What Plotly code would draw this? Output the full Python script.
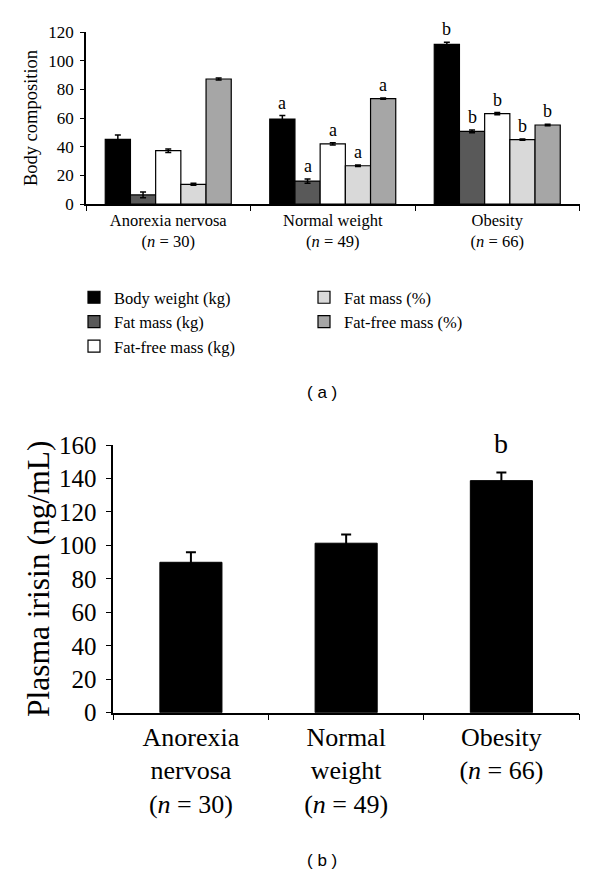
import plotly.graph_objects as go

# ---------------- data ----------------
groups_top = ["Anorexia nervosa<br>(<i>n</i> = 30)",
              "Normal weight<br>(<i>n</i> = 49)",
              "Obesity<br>(<i>n</i> = 66)"]
series_names = ["Body weight (kg)", "Fat mass (kg)", "Fat-free mass (kg)",
                "Fat mass (%)", "Fat-free mass (%)"]
body_weight = [45.1, 59.3, 111.4]
body_weight_err = [3.0, 2.4, 1.5]
fat_mass_kg = [6.3, 16.0, 50.7]
fat_mass_kg_err = [2.0, 1.5, 1.0]
ffm_kg = [37.2, 41.9, 63.0]
ffm_kg_err = [1.2, 0.8, 0.8]
fat_mass_pct = [13.7, 26.7, 44.9]
fat_mass_pct_err = [0.7, 0.5, 0.5]
ffm_pct = [87.2, 73.5, 55.1]
ffm_pct_err = [0.7, 0.5, 0.5]
letters_top = [["", "", "", "", ""],
               ["a", "a", "a", "a", "a"],
               ["b", "b", "b", "b", "b"]]

groups_bottom = ["Anorexia<br>nervosa<br>(<i>n</i> = 30)",
                 "Normal<br>weight<br>(<i>n</i> = 49)",
                 "Obesity<br>(<i>n</i> = 66)"]
irisin = [89.9, 101.3, 138.7]
irisin_err = [6.0, 5.2, 4.8]
letters_bottom = ["", "", "b"]

# ---------------- style ----------------
colors = ["#000000", "#595959", "#ffffff", "#d9d9d9", "#a6a6a6"]
SERIF = "Liberation Serif"
SANS = "Liberation Sans"
OFF = 8                      # default page body margin
W, H = 600 - OFF, 875 - OFF


def px_x(x):
    return (x - OFF) / W


def px_y(y):
    return 1 - (y - OFF) / H


bargap = 0.234
x1dom = [px_x(86), px_x(579.5)]
y1dom = [px_y(204), px_y(32)]
x2dom = [px_x(113.3), px_x(579)]
y2dom = [px_y(712.7), px_y(445)]

series_vals = [body_weight, fat_mass_kg, ffm_kg, fat_mass_pct, ffm_pct]
series_errs = [body_weight_err, fat_mass_kg_err, ffm_kg_err, fat_mass_pct_err, ffm_pct_err]

fig = go.Figure()
for i, name in enumerate(series_names):
    fig.add_trace(go.Bar(
        x=groups_top, y=series_vals[i], name=name,
        marker=dict(color=colors[i], line=dict(color="black", width=1.2)),
        error_y=dict(type="data", array=series_errs[i], color="black",
                     thickness=1.5, width=3),
        xaxis="x", yaxis="y",
        legend="legend" if i < 3 else "legend2",
    ))

fig.add_trace(go.Bar(
    x=groups_bottom, y=irisin, name="Plasma irisin", showlegend=False,
    width=0.4,
    marker=dict(color="black", line=dict(color="black", width=1)),
    error_y=dict(type="data", array=irisin_err, color="black",
                 thickness=2, width=5),
    xaxis="x2", yaxis="y2",
))

# letters above bars (top)
cat_px = (x1dom[1] - x1dom[0]) * W / 3
bw_px = cat_px * (1 - bargap) / 5
annotations = []
for g in range(3):
    for i in range(5):
        t = letters_top[g][i]
        if t:
            annotations.append(dict(
                x=groups_top[g], y=series_vals[i][g] + series_errs[i][g],
                xref="x", yref="y", text=t, showarrow=False,
                xshift=(i - 2) * bw_px, yanchor="bottom", yshift=1,
                font=dict(family=SERIF, size=18, color="black")))
for g in range(3):
    if letters_bottom[g]:
        annotations.append(dict(
            x=groups_bottom[g], y=irisin[g] + irisin_err[g],
            xref="x2", yref="y2", text=letters_bottom[g], showarrow=False,
            yanchor="bottom", yshift=12,
            font=dict(family=SERIF, size=28, color="black")))

annotations.append(dict(x=px_x(322), y=px_y(392), xref="paper", yref="paper",
                        xanchor="center", yanchor="middle",
                        text="( a )", showarrow=False,
                        font=dict(family=SANS, size=17, color="black")))
annotations.append(dict(x=px_x(322), y=px_y(860), xref="paper", yref="paper",
                        xanchor="center", yanchor="middle",
                        text="( b )", showarrow=False,
                        font=dict(family=SANS, size=17, color="black")))

axis_common = dict(showline=True, linecolor="black", linewidth=1.5,
                   showgrid=False, zeroline=False, ticks="outside",
                   tickcolor="black", automargin=False)

fig.update_layout(
    width=W, height=H,
    margin=dict(l=0, r=0, t=0, b=0, autoexpand=False),
    paper_bgcolor="white", plot_bgcolor="white",
    barmode="group", bargap=bargap, bargroupgap=0,
    font=dict(family=SERIF, color="black"),
    xaxis=dict(domain=x1dom, anchor="y", tickson="boundaries", ticklen=5,
               tickfont=dict(family=SERIF, size=16.5), **axis_common),
    yaxis=dict(domain=y1dom, anchor="x", range=[0, 120], dtick=20, ticklen=4,
               ticklabelstandoff=3,
               tickfont=dict(family=SERIF, size=17),
               title=dict(text="Body composition",
                          font=dict(family=SERIF, size=18.5), standoff=6),
               **axis_common),
    xaxis2=dict(domain=x2dom, anchor="y2", tickson="boundaries", ticklen=6,
                tickfont=dict(family=SERIF, size=26), **axis_common),
    yaxis2=dict(domain=y2dom, anchor="x2", range=[0, 160], dtick=20, ticklen=6,
                ticklabelstandoff=4,
                tickfont=dict(family=SERIF, size=25),
                title=dict(text="Plasma irisin (ng/mL)",
                           font=dict(family=SERIF, size=31.5), standoff=0),
                **axis_common),
    legend=dict(x=px_x(74), y=px_y(280), xanchor="left", yanchor="top",
                font=dict(family=SERIF, size=16.5), bgcolor="rgba(0,0,0,0)",
                tracegroupgap=0),
    legend2=dict(x=px_x(304), y=px_y(280), xanchor="left", yanchor="top",
                 font=dict(family=SERIF, size=16.5), bgcolor="rgba(0,0,0,0)",
                 tracegroupgap=0),
    annotations=annotations,
)

fig.write_html("out.html")
